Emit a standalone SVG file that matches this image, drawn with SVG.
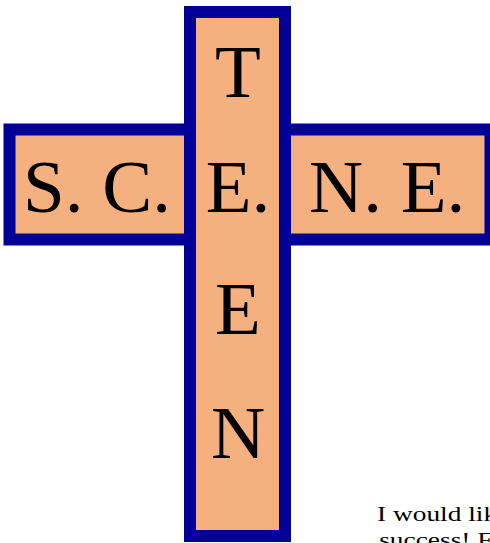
<svg xmlns="http://www.w3.org/2000/svg" width="490" height="543" viewBox="0 0 490 543">
<style>
.box{fill:#F4B07E;stroke:#000099;stroke-width:12}
.big{font-family:"Liberation Serif","Times New Roman",serif;font-size:75px;fill:#000}
.small{font-family:"Liberation Serif","Times New Roman",serif;font-size:20px;fill:#000}
</style>
<rect width="490" height="543" fill="#fff"/>
<g id="horizontal">
<rect class="box" x="9.5" y="129.5" width="481" height="110"/>
</g>
<g id="vertical">
<rect class="box" x="190" y="12" width="95" height="524"/>
</g>
<g id="labels">
<text class="big" x="23" y="212">S. C.</text>
<text class="big" x="309" y="212">N. E.</text>
<text class="big" x="238" y="97" text-anchor="middle">T</text>
<text class="big" x="238" y="212" text-anchor="middle">E.</text>
<text class="big" x="238" y="334" text-anchor="middle">E</text>
<text class="big" x="238" y="458" text-anchor="middle">N</text>
</g>
<g id="note" transform="scale(1.37,1)">
<text class="small" x="275.2" y="521">I would lik</text>
<text class="small" x="276.8" y="547">success! F</text>
</g>
</svg>
